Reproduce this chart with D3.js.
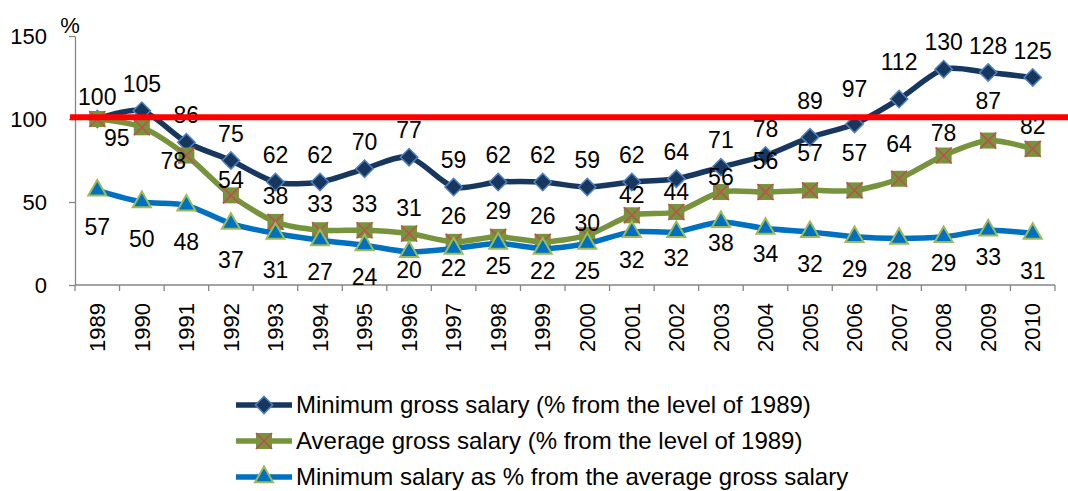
<!DOCTYPE html>
<html>
<head>
<meta charset="utf-8">
<script src="https://cdn.jsdelivr.net/npm/d3@7"></script>
<style>
  body { margin: 0; background: #fff; }
  text { font-family: "Liberation Sans", Arial, sans-serif; fill: #000; }
</style>
</head>
<body>
<div id="chart"></div>
<script>
// ---- data ----
const years = ["1989","1990","1991","1992","1993","1994","1995","1996","1997","1998","1999",
               "2000","2001","2002","2003","2004","2005","2006","2007","2008","2009","2010"];
const minGross = [100,105,86,75,62,62,70,77,59,62,62,59,62,64,71,78,89,97,112,130,128,125];
const avgGross = [100,95,78,54,38,33,33,31,26,29,26,30,42,44,56,56,57,57,64,78,87,82];
const minVsAvg = [57,50,48,37,31,27,24,20,22,25,22,25,32,32,38,34,32,29,28,29,33,31];
const yTicks = [0, 50, 100, 150];
const refLevel = 101; // red reference line (1989 level)

const seriesNames = [
  "Minimum gross salary (% from the level of 1989)",
  "Average gross salary (% from the level of 1989)",
  "Minimum salary as % from the average gross salary"
];

// label nudges (dx, dy) for labels that were moved by hand in the original;
// null = label sits under another one in the original (both say "100")
const labelNudge = {
  min: {"1989": [0, 5], "2005": [0, -9], "2006": [0, -8], "2007": [0, -10]},
  avg: {"1989": null, "1990": [-25, 37], "1991": [-13, 31], "1992": [0, 11], "2000": [0, 14],
        "2001": [0, 6], "2002": [0, 6], "2003": [0, 11], "2004": [0, -5], "2005": [0, -11],
        "2006": [0, -11], "2007": [0, -9], "2009": [0, -14], "2010": [0, 3], "2008": [0, 3]},
  ratio: {"1989": [0, 5], "1990": [0, 5], "1991": [0, 5], "1992": [0, 4], "1993": [0, 4],
          "1996": [0, -14], "1997": [0, -13], "1998": [0, -10], "1999": [0, -10],
          "2000": [0, -5], "2001": [0, -4], "2002": [0, -6], "2003": [0, -11], "2004": [0, -7],
          "2008": [0, -6], "2009": [0, -5], "2010": [0, 5]}
};

// ---- layout ----
const W = 1068, H = 491;
const margin = {top: 36, right: 13, bottom: 206, left: 75};
const width = W - margin.left - margin.right;
const height = H - margin.top - margin.bottom;

const root = d3.select("#chart").append("svg")
    .attr("width", W)
    .attr("height", H);

const svg = root.append("g")
    .attr("transform", `translate(${margin.left}, ${margin.top})`);

const x = d3.scaleBand().domain(years).range([0, width]).padding(0);
const y = d3.scaleLinear().domain([0, 150]).range([height, 0]);
const cx = d => x(d) + x.bandwidth() / 2;

const axisColor = "#868686";

// y axis
const yAxis = svg.append("g")
    .call(d3.axisLeft(y).tickValues(yTicks).tickSize(6).tickSizeOuter(0).tickPadding(22));
yAxis.selectAll("text").style("font-size", "22px").style("font-family", "Liberation Sans, Arial, sans-serif");
yAxis.selectAll("line, path").attr("stroke", axisColor).attr("stroke-width", 1.3);

// "%" unit label
root.append("text")
    .attr("x", 70)
    .attr("y", 25)
    .attr("dy", "0.35em")
    .attr("text-anchor", "middle")
    .style("font-size", "22px")
    .text("%");

// x axis: line, boundary ticks, rotated labels
const xAxis = svg.append("g").attr("transform", `translate(0, ${height})`);
xAxis.append("line")
    .attr("x1", 0).attr("x2", width)
    .attr("stroke", axisColor).attr("stroke-width", 1.3);
const bounds = years.map(d => x(d)).concat([width]);
xAxis.selectAll(".bt").data(bounds).enter().append("line")
    .attr("x1", d => d).attr("x2", d => d)
    .attr("y1", 0).attr("y2", 6)
    .attr("stroke", axisColor).attr("stroke-width", 1.3);
xAxis.selectAll(".yl").data(years).enter().append("text")
    .attr("transform", d => `translate(${cx(d)}, 0) rotate(-90)`)
    .attr("x", -18)
    .attr("dy", "0.35em")
    .attr("text-anchor", "end")
    .style("font-size", "22px")
    .text(d => d);

// ---- series ----
const series = [
  {key: "min", values: minGross, color: "#17375E", marker: "diamond", labelDy: -27},
  {key: "avg", values: avgGross, color: "#77933C", marker: "squareX", labelDy: -26},
  {key: "ratio", values: minVsAvg, color: "#0070C0", marker: "triangle", labelDy: 32}
];

const line = d3.line()
    .x(d => cx(d.year))
    .y(d => y(d.value))
    .curve(d3.curveCardinal.tension(0.2));

function drawMarker(g, type) {
  if (type === "diamond") {
    g.append("path")
        .attr("d", d3.symbol(d3.symbolSquare, 150)())
        .attr("transform", "rotate(45)")
        .attr("fill", "#17375E")
        .attr("stroke", "#4F81BD")
        .attr("stroke-width", 1.5);
  } else if (type === "squareX") {
    const s = 8;
    g.append("rect")
        .attr("x", -s).attr("y", -s)
        .attr("width", 2 * s).attr("height", 2 * s)
        .attr("fill", "#77933C");
    g.append("path")
        .attr("d", `M${-s},${-s}L${s},${s}M${-s},${s}L${s},${-s}`)
        .attr("stroke", "#C0504D")
        .attr("stroke-width", 1.6);
  } else {
    g.append("path")
        .attr("d", d3.symbol(d3.symbolTriangle, 140)())
        .attr("fill", "#0070C0")
        .attr("stroke", "#9BBB59")
        .attr("stroke-width", 2);
  }
}

series.forEach(s => {
  const pts = years.map((yr, i) => ({year: yr, value: s.values[i]}));
  svg.append("path")
      .datum(pts)
      .attr("fill", "none")
      .attr("stroke", s.color)
      .attr("stroke-width", 5.5)
      .attr("d", line);
  pts.forEach(p => {
    const g = svg.append("g").attr("transform", `translate(${cx(p.year)}, ${y(p.value)})`);
    drawMarker(g, s.marker);
  });
});

// data labels
series.forEach(s => {
  years.forEach((yr, i) => {
    const nudges = labelNudge[s.key] || {};
    const n = yr in nudges ? nudges[yr] : [0, 0];
    if (n === null) return;
    svg.append("text")
        .attr("x", cx(yr) + n[0])
        .attr("y", y(s.values[i]) + s.labelDy + n[1])
        .attr("dy", "0.35em")
        .attr("text-anchor", "middle")
        .style("font-size", "23px")
        .text(s.values[i]);
  });
});

// red reference line on top, running past the axis to the right edge
root.append("line")
    .attr("x1", 70)
    .attr("x2", W)
    .attr("y1", margin.top + y(refLevel))
    .attr("y2", margin.top + y(refLevel))
    .attr("stroke", "#FF0000")
    .attr("stroke-width", 6);

// ---- legend ----
const legend = root.append("g").attr("transform", "translate(236, 405)");
series.forEach((s, i) => {
  const row = legend.append("g").attr("transform", `translate(0, ${i * 36})`);
  row.append("line")
      .attr("x1", 0).attr("x2", 56)
      .attr("stroke", s.color)
      .attr("stroke-width", 5.5);
  drawMarker(row.append("g").attr("transform", "translate(28, 0)"), s.marker);
  row.append("text")
      .attr("x", 60)
      .attr("dy", "0.35em")
      .style("font-size", "24px")
      .text(seriesNames[i]);
});
</script>
</body>
</html>
